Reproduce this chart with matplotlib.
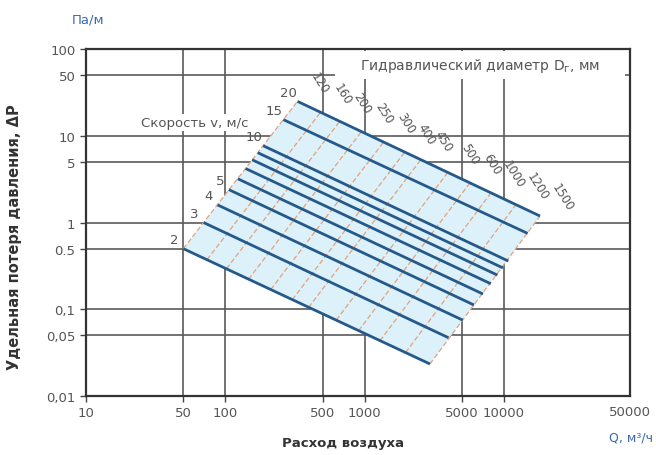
import matplotlib
matplotlib.use("Agg")
import matplotlib.pyplot as plt
from matplotlib.ticker import FixedLocator, FixedFormatter, NullLocator
from matplotlib.patches import Rectangle

plt.rcParams['font.family'] = ['DejaVu Sans']

# ---- data ----
velocities = ['2', '3', '4', '5', '', '', '', '', '10', '15', '20']   # m/s (6..9 unlabeled)
v_q_start = [50, 70, 88, 106, 123, 140, 156, 171, 187, 261, 330]
v_p_start = [0.5, 1.0, 1.6, 2.4, 3.2, 4.2, 5.3, 6.4, 7.7, 15.4, 25]
v_q_end = [2945, 4000, 5060, 6100, 7070, 8050, 8970, 9830, 10750, 14800, 18150]
v_p_end = [0.0234, 0.047, 0.075, 0.112, 0.150, 0.197, 0.248, 0.30, 0.36, 0.75, 1.19]

diameters = ['120', '160', '200', '250', '300', '400', '450', '500', '600', '1000', '1200', '1500']
d_q_bottom = [50, 74, 102, 147, 212, 303, 396, 626, 906, 1290, 1970, 2945]
d_p_bottom = [0.5, 0.374, 0.294, 0.222, 0.169, 0.129, 0.105, 0.075, 0.0567, 0.0434, 0.0317, 0.0234]
d_q_top = [330, 483, 663, 950, 1370, 1940, 2530, 3960, 5700, 8080, 12200, 18150]
d_p_top = [25, 18.7, 14.7, 11.2, 8.5, 6.5, 5.3, 3.8, 2.87, 2.2, 1.61, 1.19]

x_ticks = [10, 50, 100, 500, 1000, 5000, 10000]
x_tick_labels = ['10', '50', '100', '500', '1000', '5000', '10000']
x_edge_label = '50000'
y_ticks = [0.01, 0.05, 0.1, 0.5, 1, 5, 10, 50, 100]
y_tick_labels = ['0,01', '0,05', '0,1', '0.5', '1', '5', '10', '50', '100']

# ---- figure ----
fig = plt.figure(figsize=(6.56, 4.56), dpi=100)
ax = fig.add_axes([0.131, 0.1294, 0.829, 0.7606])
ax.set_xscale('log')
ax.set_yscale('log')
ax.set_xlim(10, 80000)
ax.set_ylim(0.01, 100)

ax.xaxis.set_major_locator(FixedLocator(x_ticks))
ax.xaxis.set_major_formatter(FixedFormatter(x_tick_labels))
ax.xaxis.set_minor_locator(NullLocator())
ax.yaxis.set_major_locator(FixedLocator(y_ticks))
ax.yaxis.set_major_formatter(FixedFormatter(y_tick_labels))
ax.yaxis.set_minor_locator(NullLocator())
ax.tick_params(axis='both', labelsize=9.5, labelcolor='#555555', color='#444444',
               length=4, width=1)

grid_col = '#5a5a5a'
for xv in x_ticks[1:]:
    ax.axvline(xv, color=grid_col, lw=1.2, zorder=1)
for yv in y_ticks[1:-1]:
    ax.axhline(yv, color=grid_col, lw=1.2, zorder=1)
for s in ax.spines.values():
    s.set_linewidth(1.6)
    s.set_color('#333333')

# nomogram background
poly_q = [v_q_start[0], v_q_start[-1], v_q_end[-1], v_q_end[0]]
poly_p = [v_p_start[0], v_p_start[-1], v_p_end[-1], v_p_end[0]]
ax.fill(poly_q, poly_p, color='#dcf1fa', zorder=2, lw=0)

# diameter lines
for qb, pb, qt, pt, lab in zip(d_q_bottom, d_p_bottom, d_q_top, d_p_top, diameters):
    ax.plot([qb, qt], [pb, pt], color='#e3a27a', lw=0.9, ls=(0, (4, 2)), zorder=3)
    ax.annotate(lab, (qt, pt), xytext=(22, 19), textcoords='offset pixels',
                rotation=-58, ha='center', va='center', rotation_mode='anchor',
                fontsize=8.5, color='#555555', zorder=5)

# velocity lines
for q0, p0, q1, p1, lab in zip(v_q_start, v_p_start, v_q_end, v_p_end, velocities):
    ax.plot([q0, q1], [p0, p1], color='#25598a', lw=2.0, zorder=4,
            solid_capstyle='butt')
    if lab:
        ax.annotate(lab, (q0, p0), xytext=(-9, 9), textcoords='offset pixels',
                    ha='center', va='center', fontsize=9.5, color='#555555', zorder=5)

# texts
ax.text(0.20, 0.788, 'Скорость v, м/с', transform=ax.transAxes, ha='center', va='center',
        fontsize=9.5, color='#555555', zorder=6,
        bbox=dict(facecolor='white', edgecolor='none', pad=1.5))
ax.add_patch(Rectangle((0.458, 0.914), 0.533, 0.08, transform=ax.transAxes,
                       facecolor='white', edgecolor='none', zorder=5))
ax.text(0.725, 0.955, 'Гидравлический диаметр D$_\\mathregular{г}$, мм', transform=ax.transAxes,
        ha='center', va='center', fontsize=10, color='#555555', zorder=6)
ax.text(1.0, -0.046, x_edge_label, transform=ax.transAxes, ha='center', va='center',
        fontsize=9.5, color='#555555')

ax.set_xlabel('Расход воздуха', fontsize=9.5, fontweight='bold', color='#333333')
ax.xaxis.set_label_coords(0.472, -0.115)
ax.set_ylabel('Удельная потеря давления, ΔP', fontsize=10.5, fontweight='bold',
              color='#333333')
ax.yaxis.set_label_coords(-0.118, 0.461)

fig.text(88 / 656, 1 - 20 / 456, 'Па/м', ha='center', va='center', fontsize=9.5,
         color='#3a6aa8')
fig.text(1 - 3 / 656, 1 - 438 / 456, 'Q, м³/ч', ha='right', va='center', fontsize=9,
         color='#3a6aa8')

fig.savefig('out.png', dpi=100)
